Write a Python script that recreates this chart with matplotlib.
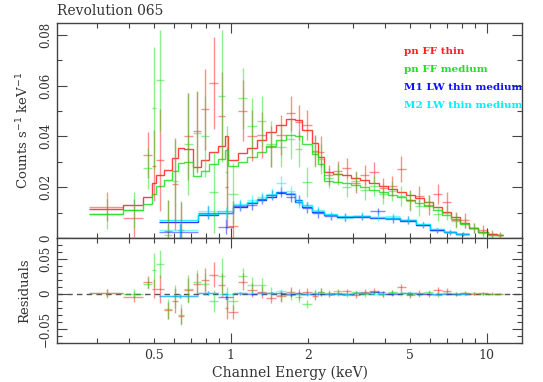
import numpy as np
import matplotlib
matplotlib.use("Agg")
import matplotlib.pyplot as plt
from matplotlib.ticker import FixedLocator, NullFormatter, FixedFormatter

# ---- pn spectra (pn FF thin / pn FF medium), shared grouping ----
pn_edges = [0.28, 0.38, 0.455, 0.495, 0.51, 0.55, 0.59, 0.625, 0.655, 0.71,
            0.765, 0.82, 0.895, 0.95, 0.98, 1.065, 1.16, 1.265, 1.38, 1.505,
            1.64, 1.79, 1.9, 2.07, 2.19, 2.32, 2.52, 2.73, 2.96, 3.21,
            3.48, 3.78, 4.10, 4.45, 4.83, 5.24, 5.69, 6.17, 6.70, 7.27,
            7.89, 8.56, 9.29, 10.08, 10.94, 11.6]

pn_thin_model = [0.0113, 0.0130, 0.0163, 0.0215, 0.0248, 0.0268, 0.0313, 0.0353, 0.0350, 0.0280,
                 0.0307, 0.0340, 0.0362, 0.0400, 0.0307, 0.0334, 0.0353, 0.0386, 0.0419, 0.0445,
                 0.0470, 0.0465, 0.0425, 0.0374, 0.0320, 0.0258, 0.0252, 0.0246, 0.0238, 0.0228,
                 0.0218, 0.0206, 0.0194, 0.0182, 0.0170, 0.0156, 0.0140, 0.0123, 0.0102, 0.0082,
                 0.0060, 0.0040, 0.0025, 0.0015, 0.0012]
pn_thin_data = [0.0123, 0.0080, 0.0328, 0.0285, 0.0308, 0.0028, 0.0213, 0.0033, 0.0400, 0.0420,
                0.0507, 0.0610, 0.0482, 0.0200, 0.0047, 0.0500, 0.0403, 0.0406, 0.0359, 0.0405,
                0.0490, 0.0455, 0.0445, 0.0344, 0.0340, 0.0248, 0.0262, 0.0276, 0.0218, 0.0248,
                0.0258, 0.0196, 0.0204, 0.0272, 0.0150, 0.0166, 0.0130, 0.0173, 0.0142, 0.0072,
                0.0070, 0.0040, 0.0030, 0.0015, 0.0012]
pn_thin_err = [0.0057, 0.0075, 0.0090, 0.0140, 0.0200, 0.0120, 0.0180, 0.0110, 0.0170, 0.0160,
               0.0160, 0.0180, 0.0170, 0.0160, 0.0100, 0.0120, 0.0100, 0.0090, 0.0080, 0.0080,
               0.0070, 0.0070, 0.0060, 0.0060, 0.0060, 0.0040, 0.0040, 0.0040, 0.0040, 0.0040,
               0.0040, 0.0040, 0.0040, 0.0050, 0.0040, 0.0040, 0.0040, 0.0040, 0.0040, 0.0030,
               0.0030, 0.0020, 0.0020, 0.0015, 0.0010]

pn_med_model = [0.0093, 0.0110, 0.0135, 0.0175, 0.0205, 0.0228, 0.0265, 0.0295, 0.0300, 0.0245,
                0.0265, 0.0290, 0.0310, 0.0345, 0.0285, 0.0300, 0.0318, 0.0338, 0.0362, 0.0385,
                0.0405, 0.0400, 0.0370, 0.0330, 0.0290, 0.0225, 0.0220, 0.0215, 0.0208, 0.0200,
                0.0190, 0.0180, 0.0170, 0.0160, 0.0150, 0.0138, 0.0125, 0.0110, 0.0092, 0.0074,
                0.0055, 0.0038, 0.0022, 0.0012, 0.0010]
pn_med_data = [0.0095, 0.0110, 0.0274, 0.0510, 0.0620, 0.0010, 0.0225, -0.0005, 0.0370, 0.0415,
               0.0400, 0.0180, 0.0560, 0.0260, 0.0175, 0.0550, 0.0440, 0.0460, 0.0370, 0.0360,
               0.0390, 0.0350, 0.0220, 0.0340, 0.0310, 0.0235, 0.0250, 0.0200, 0.0225, 0.0190,
               0.0205, 0.0175, 0.0185, 0.0165, 0.0145, 0.0125, 0.0140, 0.0095, 0.0100, 0.0068,
               0.0058, 0.0040, 0.0020, 0.0012, 0.0010]
pn_med_err = [0.0060, 0.0070, 0.0080, 0.0240, 0.0200, 0.0140, 0.0160, 0.0150, 0.0200, 0.0160,
              0.0160, 0.0160, 0.0260, 0.0180, 0.0120, 0.0120, 0.0110, 0.0100, 0.0090, 0.0080,
              0.0080, 0.0070, 0.0060, 0.0060, 0.0060, 0.0040, 0.0040, 0.0040, 0.0040, 0.0040,
              0.0040, 0.0040, 0.0040, 0.0040, 0.0040, 0.0040, 0.0030, 0.0030, 0.0030, 0.0030,
              0.0020, 0.0020, 0.0015, 0.0010, 0.0010]

# ---- MOS spectra (M1 / M2 LW thin medium) ----
mos_edges = [0.526, 0.743, 0.895, 1.02, 1.16, 1.27, 1.38, 1.51, 1.64, 1.79,
             1.90, 2.07, 2.32, 2.6, 3.0, 3.5, 4.0, 4.6, 5.3, 6.0,
             6.8, 7.6, 8.5]

m1_model = [0.0064, 0.0090, 0.0100, 0.0123, 0.0136, 0.0150, 0.0163, 0.0176, 0.0173, 0.0143,
            0.0123, 0.0104, 0.0090, 0.0084, 0.0082, 0.0080, 0.0077, 0.0068, 0.0052, 0.0033,
            0.0022, 0.0016]
m1_data = [0.0025, 0.0100, 0.0045, 0.0125, 0.0130, 0.0155, 0.0170, 0.0180, 0.0160, 0.0150,
           0.0120, 0.0100, 0.0085, 0.0082, 0.0085, 0.0105, 0.0075, 0.0070, 0.0050, 0.0030,
           0.0022, 0.0016]
m1_err = [0.0030, 0.0025, 0.0030, 0.0020, 0.0020, 0.0020, 0.0020, 0.0020, 0.0020, 0.0020,
          0.0020, 0.0020, 0.0015, 0.0015, 0.0015, 0.0015, 0.0015, 0.0015, 0.0012, 0.0010,
          0.0010, 0.0008]

m2_model = [0.0070, 0.0095, 0.0105, 0.0128, 0.0140, 0.0155, 0.0168, 0.0182, 0.0178, 0.0148,
            0.0128, 0.0108, 0.0094, 0.0088, 0.0086, 0.0083, 0.0079, 0.0070, 0.0054, 0.0035,
            0.0024, 0.0017]
m2_data = [0.0030, 0.0105, 0.0098, 0.0135, 0.0150, 0.0160, 0.0175, 0.0215, 0.0185, 0.0140,
           0.0125, 0.0110, 0.0090, 0.0078, 0.0088, 0.0082, 0.0085, 0.0072, 0.0055, 0.0035,
           0.0025, 0.0017]
m2_err = [0.0030, 0.0025, 0.0025, 0.0020, 0.0020, 0.0020, 0.0020, 0.0030, 0.0020, 0.0020,
          0.0020, 0.0015, 0.0015, 0.0015, 0.0015, 0.0015, 0.0015, 0.0015, 0.0012, 0.0010,
          0.0010, 0.0008]

labels = ["pn FF thin", "pn FF medium", "M1 LW thin medium", "M2 LW thin medium"]
colors = ["#ff2020", "#20e020", "#1010ff", "#00f0ff"]

datasets = [
    (pn_edges, pn_thin_data, pn_thin_err, pn_thin_model),
    (pn_edges, pn_med_data, pn_med_err, pn_med_model),
    (mos_edges, m1_data, m1_err, m1_model),
    (mos_edges, m2_data, m2_err, m2_model),
]

x_tick_values = [0.5, 1, 2, 5, 10]
x_tick_labels = ["0.5", "1", "2", "5", "10"]

plt.rcParams["font.family"] = ["DejaVu Serif"]
ink = "#333333"

W, H = 543, 382
fig = plt.figure(figsize=(W / 100, H / 100), dpi=100)
left, right = 57 / W, 522 / W
ax = fig.add_axes([left, 1 - 238 / H, right - left, (238 - 23.3) / H])
axr = fig.add_axes([left, 1 - 343 / H, right - left, (343 - 238) / H], sharex=ax)

for (edges, data, err, model), col in zip(datasets, colors):
    e = np.asarray(edges)
    lo, hi = e[:-1], e[1:]
    c = 0.5 * (lo + hi)
    d = np.asarray(data)
    m = np.asarray(model)
    xerr = [c - lo, hi - c]
    ax.errorbar(c, d, xerr=xerr, yerr=err, fmt="none", ecolor=col,
                elinewidth=1.0, alpha=0.5, capsize=0)
    ax.stairs(m, e, baseline=None, color=col, lw=1.0, alpha=0.85)
    axr.errorbar(c, d - m, xerr=xerr, yerr=err, fmt="none", ecolor=col,
                 elinewidth=1.0, alpha=0.5, capsize=0)

axr.axhline(0, color="#555555", lw=1.0, ls=(0, (4, 3)), zorder=0.5)

ax.set_xscale("log")
ax.set_xlim(0.2097, 13.74)
ax.set_ylim(0, 0.0845)
axr.set_ylim(-0.0707, 0.0793)

minor_x = [0.3, 0.4, 0.5, 0.6, 0.7, 0.8, 0.9, 2, 3, 4, 5, 6, 7, 8, 9]
for a in (ax, axr):
    a.xaxis.set_major_locator(FixedLocator([1, 10]))
    a.xaxis.set_minor_locator(FixedLocator(minor_x))
    a.xaxis.set_major_formatter(NullFormatter())
    a.xaxis.set_minor_formatter(NullFormatter())
    a.tick_params(which="both", direction="in", top=True, right=True,
                  color="#444444", width=0.8, labelsize=8.5, labelcolor=ink)
    a.tick_params(which="major", length=7)
    a.tick_params(which="minor", length=3.5)
    for s in a.spines.values():
        s.set_color("#444444")
        s.set_linewidth(1.0)

ax.yaxis.set_major_locator(FixedLocator([0, 0.02, 0.04, 0.06, 0.08]))
ax.yaxis.set_minor_locator(FixedLocator([0.01, 0.03, 0.05, 0.07]))
ax.yaxis.set_major_formatter(FixedFormatter(["0", "0.02", "0.04", "0.06", "0.08"]))

axr.yaxis.set_major_locator(FixedLocator([-0.05, 0, 0.05]))
axr.yaxis.set_minor_locator(FixedLocator([-0.07, -0.06, -0.04, -0.03, -0.02, -0.01,
                                          0.01, 0.02, 0.03, 0.04, 0.06, 0.07]))
axr.yaxis.set_major_formatter(FixedFormatter(["\u22120.05", "0", "0.05"]))

for lab in ax.get_yticklabels() + axr.get_yticklabels():
    lab.set_rotation(90)
    lab.set_va("center")

# energy labels under the residual panel
for v, t in zip(x_tick_values, x_tick_labels):
    axr.text(v, -0.055, t, transform=axr.get_xaxis_transform(), ha="center",
             va="top", fontsize=9, color=ink)

ax.set_ylabel("Counts s$^{-1}$ keV$^{-1}$", fontsize=9.5, color=ink, labelpad=6)
axr.set_ylabel("Residuals", fontsize=9.5, color=ink, labelpad=6)
fig.align_ylabels([ax, axr])
fig.text(0.5 * (left + right), 1 - 373 / H, "Channel Energy (keV)", fontsize=10,
         color=ink, ha="center", va="center")

fig.text(57 / W, 1 - 11 / H, "Revolution 065", fontsize=10, color=ink,
         ha="left", va="center")

for i, (t, col) in enumerate(zip(labels, colors)):
    ax.text(0.747, 0.87 - i * 0.085, t, transform=ax.transAxes, color=col,
            fontsize=7.5, fontweight="bold", ha="left", va="center")

fig.savefig("out.png", dpi=100)
